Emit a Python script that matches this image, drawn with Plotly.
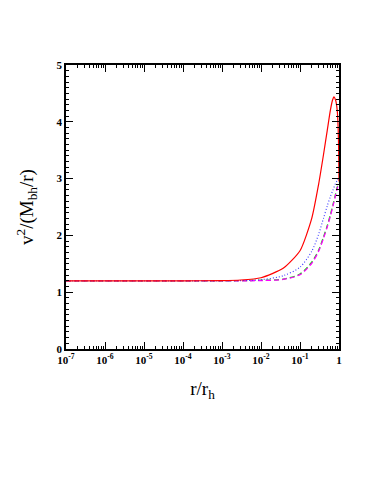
import plotly.graph_objects as go

# Values
r_red = [1e-7, 1e-5, 1e-4, 1e-3, 3e-3, 1e-2, 0.037, 0.1, 0.2, 0.3, 0.4, 0.5, 0.6, 0.68, 0.74, 0.82, 0.9, 0.95, 0.98, 1.0]
v_red = [1.2, 1.2, 1.2, 1.205, 1.215, 1.255, 1.42, 1.73, 2.3, 2.9, 3.42, 3.85, 4.2, 4.38, 4.44, 4.38, 4.2, 3.9, 3.5, 2.95]

r_blue = [1e-7, 1e-5, 1e-4, 1e-3, 1e-2, 0.037, 0.1, 0.2, 0.3, 0.4, 0.5, 0.6, 0.7, 0.8, 0.9, 1.0]
v_blue = [1.2, 1.2, 1.2, 1.2, 1.22, 1.29, 1.44, 1.72, 2.02, 2.3, 2.52, 2.68, 2.8, 2.9, 2.97, 3.02]

r_dash = [1e-7, 1e-5, 1e-4, 1e-3, 1e-2, 0.037, 0.1, 0.2, 0.3, 0.4, 0.5, 0.6, 0.7, 0.8, 0.9, 1.0]
v_green = [1.2, 1.2, 1.2, 1.2, 1.21, 1.23, 1.32, 1.53, 1.74, 1.97, 2.17, 2.36, 2.54, 2.7, 2.85, 2.93]
v_magenta = [1.2, 1.2, 1.2, 1.2, 1.205, 1.225, 1.31, 1.51, 1.72, 1.95, 2.15, 2.34, 2.52, 2.68, 2.83, 2.91]

x_tickvals = [1e-7, 1e-6, 1e-5, 1e-4, 1e-3, 1e-2, 1e-1, 1]
x_ticktext = ["10<sup>-7</sup>", "10<sup>-6</sup>", "10<sup>-5</sup>", "10<sup>-4</sup>",
              "10<sup>-3</sup>", "10<sup>-2</sup>", "10<sup>-1</sup>", "1"]
y_tickvals = [0, 1, 2, 3, 4, 5]

fig = go.Figure()
fig.add_trace(go.Scatter(x=r_dash, y=v_green, mode="lines",
                         line=dict(color="#00e000", width=1.3, dash="5px,3px", shape="spline", smoothing=0.8)))
fig.add_trace(go.Scatter(x=r_dash, y=v_magenta, mode="lines",
                         line=dict(color="#ff00ff", width=1.3, dash="5px,3px", shape="spline", smoothing=0.8)))
fig.add_trace(go.Scatter(x=r_blue, y=v_blue, mode="lines",
                         line=dict(color="#3a3aff", width=1.1, dash="1px,2px", shape="spline", smoothing=0.8)))
fig.add_trace(go.Scatter(x=r_red, y=v_red, mode="lines",
                         line=dict(color="#ff0000", width=1.2, shape="spline", smoothing=0.6)))

fig.update_layout(
    width=374, height=486,
    margin=dict(l=58, r=43, t=57, b=145),
    paper_bgcolor="white", plot_bgcolor="white",
    showlegend=False,
    xaxis=dict(
        type="log", range=[-7, 0],
        tickvals=x_tickvals, ticktext=x_ticktext,
        ticks="inside", ticklen=7, tickwidth=1, tickcolor="black",
        minor=dict(ticks="inside", ticklen=3, tickcolor="black", dtick="D1", showgrid=False),
        showline=True, linecolor="black", linewidth=1.5, mirror="allticks",
        showgrid=False, zeroline=False,
        tickfont=dict(family="Liberation Serif", size=11, color="black", weight="bold"),
        title=dict(text="r/r<sub>h</sub>", font=dict(family="Liberation Serif", size=19, color="black"),
                   standoff=17),
    ),
    yaxis=dict(
        range=[0, 5],
        tickvals=y_tickvals,
        ticks="inside", ticklen=7, tickwidth=1, tickcolor="black",
        minor=dict(ticks="inside", ticklen=3, tickcolor="black", dtick=0.1, showgrid=False),
        showline=True, linecolor="black", linewidth=1.5, mirror="allticks",
        showgrid=False, zeroline=False,
        tickfont=dict(family="Liberation Serif", size=11, color="black", weight="bold"),
        title=dict(text="v<sup>2</sup>/(M<sub>bh</sub>/r)",
                   font=dict(family="Liberation Serif", size=19, color="black"), standoff=18),
    ),
)

fig.write_html("out.html")
